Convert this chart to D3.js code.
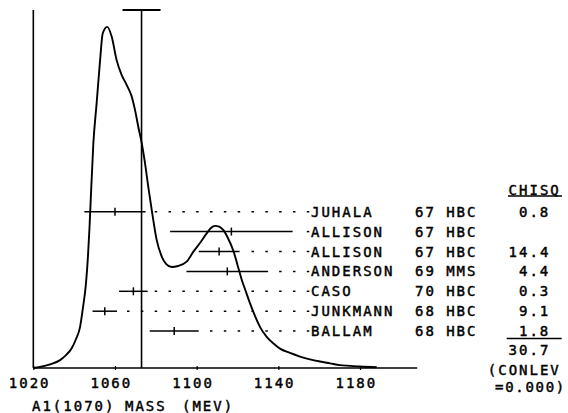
<!DOCTYPE html>
<html><head><meta charset="utf-8">
<script src="https://cdn.jsdelivr.net/npm/d3@7"></script>
<style>
html,body{margin:0;padding:0;background:#fff;}
svg{display:block;}
text{font-family:"DejaVu Sans Mono",monospace;font-size:14px;letter-spacing:2px;fill:#000;stroke:#000;stroke-width:0.45px;}
</style></head><body>
<svg id="c" width="568" height="413"></svg>
<script>
// ---- data ----
const names   = ["JUHALA","ALLISON","ALLISON","ANDERSON","CASO","JUNKMANN","BALLAM"];
const years   = ["67","67","67","69","70","68","68"];
const methods = ["HBC","HBC","HBC","MMS","HBC","HBC","HBC"];
const masses  = [1060,1117,1111,1115,1069,1055,1089];
const errors  = [15,30,10,20,7,6,12];
const chisq   = ["0.8","","14.4","4.4","0.3","9.1","1.8"];
const chisqTotal = "30.7";
const conlev = "0.000";
const average = 1073, averageErr = 9.3;
const ticks = [1020,1060,1100,1140,1180];
const axisEnd = 1208;
// ideogram curve (arbitrary units 0..100)
const idMass  = [1020,1023.3,1028.2,1033.1,1036,1038.8,1040.9,1042.9,1044.3,1045.8,1046.8,1047.5,1048.0,1049.4,1051.0,1052.7,1054.0,1056.2,
                 1058.4,1060.8,1063.3,1065.7,1068.2,1069.8,1071.4,1073.1,1074.7,1076.3,1078.0,1080.4,1083.0,1085.0,1087.8,
                 1090.9,1095.1,1098.4,1101.6,1104.9,1107.0,1109.0,1111.0,1113.1,1115.3,1118.0,1120.0,1122.1,1124.2,1126.1,1128.6,
                 1131.0,1134.3,1137.5,1140.8,1145.7,1150.6,1155.5,1160.4,1165.3,1170.2,1175.1,1180.0,1188.2];
const idValue = [0,0.3,1.0,2.2,3.6,5.5,8.1,11.5,16.8,23.7,31.6,39.1,45.5,62.8,73.9,86.0,93.5,95.3,
                 92.5,86.0,81.8,79.1,75.8,72.1,67.4,62.8,57.2,50.6,44.1,35.8,31.0,29.1,28.2,
                 28.5,29.7,32.5,34.9,37.6,39.1,39.7,39.5,38.5,36.3,32.7,28.8,24.6,21.2,18.1,14.5,
                 11.5,8.7,6.9,5.4,4.2,3.2,2.4,1.8,1.3,0.8,0.6,0.4,0.2];

// ---- scales ----
const x = d3.scaleLinear().domain([1020,1180]).range([33.33,360]);
const y = d3.scaleLinear().domain([0,100]).range([368,10]);
const row = d3.scaleLinear().domain([0,1]).range([211.7,231.6]);
const colX = c => 311 + c*10.4;

const svg = d3.select("#c");
const g = svg.append("g");

// axes lines
g.append("line").attr("x1",x(1020)).attr("x2",x(1020)).attr("y1",y(0)).attr("y2",y(100))
  .attr("stroke","#000").attr("stroke-width",1.6);
g.append("line").attr("x1",x(1020)).attr("x2",x(axisEnd)).attr("y1",y(0)).attr("y2",y(0))
  .attr("stroke","#000").attr("stroke-width",1.6);

// x axis ticks
const ax = g.append("g").attr("transform",`translate(0,${y(0)})`)
  .call(d3.axisBottom(x).tickValues(ticks).tickSize(2).tickFormat(d3.format("d")));
ax.select(".domain").remove();
ax.selectAll(".tick line").attr("y1",-2).attr("stroke","#000").attr("stroke-width",1.2);
ax.selectAll(".tick text").attr("font-family",null).attr("font-size",null).attr("fill",null)
  .attr("text-anchor","start").attr("x",-25).attr("y",20).attr("dy",null);
ax.attr("font-family",null).attr("font-size",null);

// axis title
const title = g.append("g").style("letter-spacing","1.2px");
title.append("text").attr("x",32).attr("y",411).text("A1(1070)");
title.append("text").attr("x",125).attr("y",411).text("MASS");
title.append("text").attr("x",182).attr("y",411).text("(MEV)");

// ideogram curve
const pts = idMass.map((m,i)=>[m,idValue[i]]);
g.append("path").datum(pts)
  .attr("d",d3.line().x(d=>x(d[0])).y(d=>y(d[1])).curve(d3.curveMonotoneX))
  .attr("fill","none").attr("stroke","#000").attr("stroke-width",1.9);

// average line and scaled error bar
g.append("line").attr("x1",x(average)).attr("x2",x(average)).attr("y1",y(100)).attr("y2",y(0))
  .attr("stroke","#000").attr("stroke-width",1.6);
g.append("line").attr("x1",x(average-averageErr)).attr("x2",x(average+averageErr))
  .attr("y1",y(100)).attr("y2",y(100)).attr("stroke","#000").attr("stroke-width",2);

// measurements
const labelDotX = 309.3;
names.forEach((n,i)=>{
  const yy = row(i);
  const lo = x(masses[i]-errors[i]), hi = x(masses[i]+errors[i]);
  if (labelDotX > hi+4) {
    g.append("path").attr("d",`M${labelDotX},${yy}H${hi+4}`)
      .attr("stroke","#000").attr("stroke-width",1.5).attr("fill","none")
      .attr("stroke-dasharray","2.5 11.33");
  }
  g.append("line").attr("x1",lo).attr("x2",hi).attr("y1",yy).attr("y2",yy)
    .attr("stroke","#000").attr("stroke-width",1.5);
  g.append("line").attr("x1",x(masses[i])).attr("x2",x(masses[i])).attr("y1",yy-4).attr("y2",yy+4)
    .attr("stroke","#000").attr("stroke-width",1.5);
  g.append("text").attr("x",colX(0)).attr("y",yy+5).text(n);
  g.append("text").attr("x",colX(10)).attr("y",yy+5).text(years[i]);
  g.append("text").attr("x",colX(13)).attr("y",yy+5).text(methods[i]);
  if (chisq[i]) g.append("text").attr("x",colX(23-chisq[i].length)).attr("y",yy+5).text(chisq[i]);
});

// chisq header, total, conlev
g.append("text").attr("x",colX(19)).attr("y",row(-1)+3).text("CHISQ");
g.append("line").attr("x1",508).attr("x2",562).attr("y1",196).attr("y2",196).attr("stroke","#000").attr("stroke-width",1.3);
g.append("line").attr("x1",506.7).attr("x2",561.7).attr("y1",338.5).attr("y2",338.5).attr("stroke","#000").attr("stroke-width",1.3);
g.append("text").attr("x",colX(23-chisqTotal.length)).attr("y",row(7)+4).text(chisqTotal);
g.append("text").attr("x",colX(17)).attr("y",row(8)+4).text("(CONLEV");
g.append("text").attr("x",495).attr("y",392).style("letter-spacing","1.7px").text("=" + conlev + ")");
</script>
</body></html>
